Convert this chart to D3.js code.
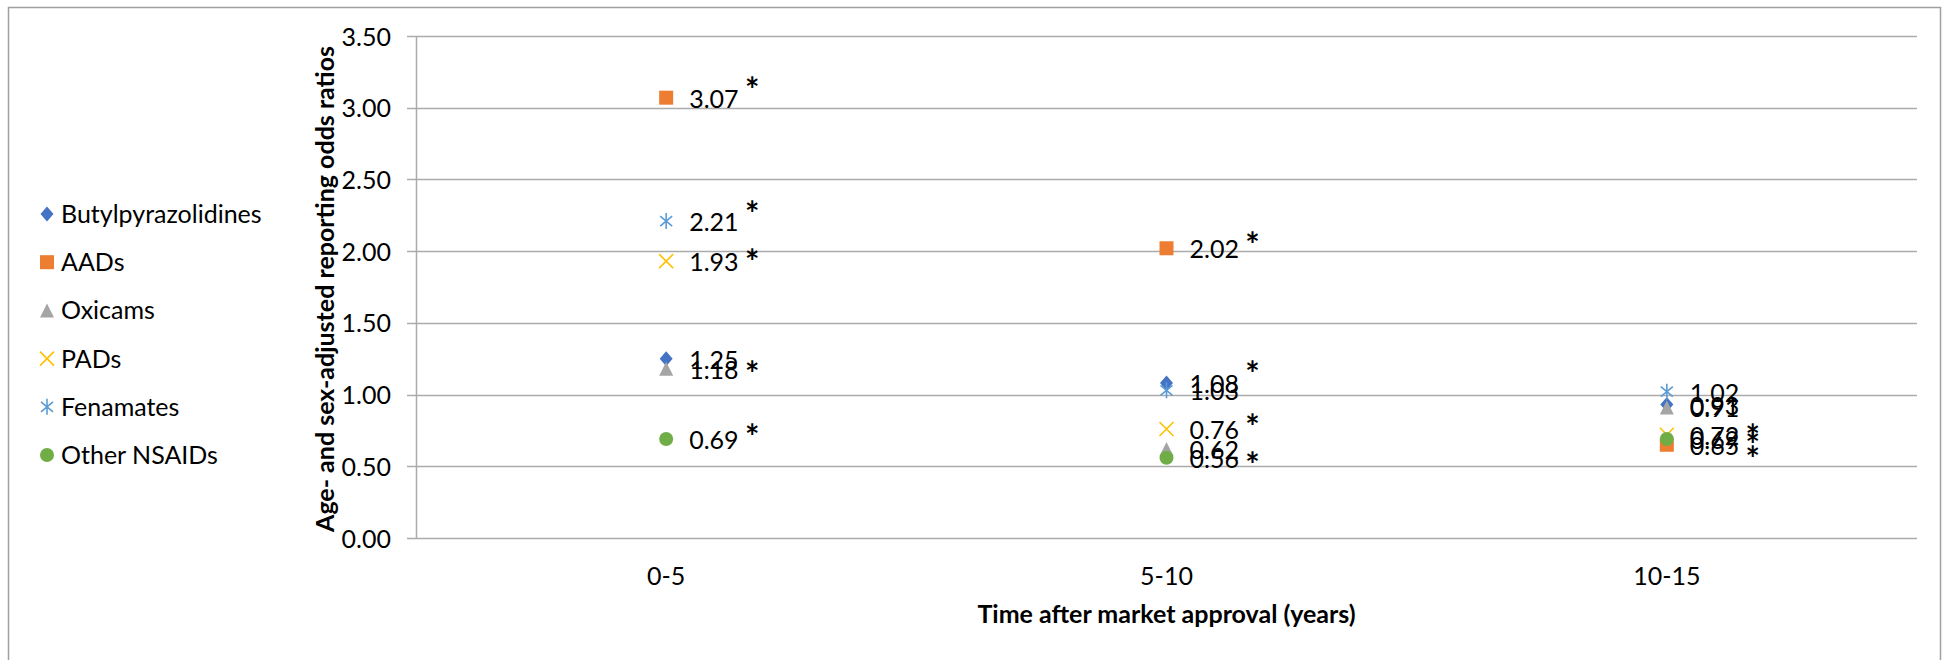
<!DOCTYPE html>
<html>
<head>
<meta charset="utf-8">
<script src="https://cdn.jsdelivr.net/npm/d3@7"></script>
<style>
  body { margin: 0; background: #fff; }
  text { font-family: Lato, "Open Sans", "Liberation Sans", sans-serif; }
</style>
</head>
<body>
<svg id="chart" width="1945" height="660"></svg>
<script>
// ---- data ----
const categories = ["0-5", "5-10", "10-15"];
const seriesNames = ["Butylpyrazolidines", "AADs", "Oxicams", "PADs", "Fenamates", "Other NSAIDs"];
const butylpyrazolidines = [1.25, 1.08, 0.93];
const aads = [3.07, 2.02, 0.65];
const oxicams = [1.18, 0.62, 0.91];
const pads = [1.93, 0.76, 0.72];
const fenamates = [2.21, 1.03, 1.02];
const otherNsaids = [0.69, 0.56, 0.69];
const yTicks = [0, 0.5, 1, 1.5, 2, 2.5, 3, 3.5];
const seriesColors = ["#4472C4", "#ED7D31", "#A5A5A5", "#FFC000", "#5B9BD5", "#70AD47"];
const seriesMarkers = ["diamond", "square", "triangle", "x", "star", "circle"];
// significance asterisks (category, level on the odds-ratio axis)
const starCategories = ["0-5", "0-5", "0-5", "0-5", "0-5", "5-10", "5-10", "5-10", "5-10", "10-15", "10-15", "10-15"];
const starLevels = [3.17, 2.31, 1.97, 1.19, 0.75, 2.09, 1.19, 0.82, 0.56, 0.75, 0.70, 0.60];
const yTitle = "Age- and sex-adjusted reporting odds ratios";
const xTitle = "Time after market approval (years)";

const seriesValues = [butylpyrazolidines, aads, oxicams, pads, fenamates, otherNsaids];

// ---- layout ----
const svg = d3.select("#chart");
const plot = { left: 416, right: 1917, top: 36, bottom: 538 };
const FS = 25;
const FONT = "Lato, 'Open Sans', sans-serif";

svg.append("rect")
  .attr("x", 8.5).attr("y", 7.5).attr("width", 1932).attr("height", 700)
  .attr("fill", "#fff").attr("stroke", "#A0A0A0").attr("stroke-width", 1.5);

const x = d3.scaleBand().domain(categories).range([plot.left, plot.right]);
const cx = c => x(c) + x.bandwidth() / 2;
const y = d3.scaleLinear().domain([0, 3.5]).range([plot.bottom, plot.top]);

// gridlines
svg.append("g").selectAll("line").data(yTicks).join("line")
  .attr("x1", plot.left - 9).attr("x2", plot.right)
  .attr("y1", d => Math.round(y(d)) + 0.5).attr("y2", d => Math.round(y(d)) + 0.5)
  .attr("stroke", "#ABABAB").attr("stroke-width", 1.5);

// y axis
const yAxis = svg.append("g").attr("transform", `translate(${plot.left},0)`)
  .call(d3.axisLeft(y).tickValues(yTicks).tickFormat(d3.format(".2f")).tickSize(0).tickPadding(25));
yAxis.select(".domain").attr("stroke", "#ABABAB").attr("stroke-width", 1.5);
yAxis.selectAll("text").attr("font-size", FS).attr("fill", "#000")
  .attr("font-family", FONT).attr("dy", "0.36em");

// x axis labels
const xAxis = svg.append("g").attr("transform", `translate(0,${plot.bottom})`)
  .call(d3.axisBottom(x).tickSize(0).tickPadding(29));
xAxis.select(".domain").remove();
xAxis.selectAll("text").attr("font-size", FS).attr("fill", "#000")
  .attr("font-family", FONT);

// axis titles
svg.append("text")
  .attr("transform", `translate(334,${(plot.top + plot.bottom) / 2 + 2}) rotate(-90)`)
  .attr("text-anchor", "middle").attr("font-weight", "bold").attr("font-size", FS)
  .text(yTitle);
svg.append("text")
  .attr("x", (plot.left + plot.right) / 2).attr("y", 623)
  .attr("text-anchor", "middle").attr("font-weight", "bold").attr("font-size", FS)
  .text(xTitle);

// marker drawing
function drawMarker(g, type, color) {
  const s = 7;
  if (type === "diamond") {
    g.append("path").attr("d", `M0,${-s - 0.5}L${s - 0.5},0L0,${s + 0.5}L${-s + 0.5},0Z`).attr("fill", color);
  } else if (type === "square") {
    g.append("rect").attr("x", -s).attr("y", -s).attr("width", 2 * s).attr("height", 2 * s).attr("fill", color);
  } else if (type === "triangle") {
    g.append("path").attr("d", `M0,${-s}L${s},${s}L${-s},${s}Z`).attr("fill", color);
  } else if (type === "x") {
    g.append("path").attr("d", `M${-s},${-s}L${s},${s}M${s},${-s}L${-s},${s}`)
      .attr("stroke", color).attr("stroke-width", 1.6).attr("fill", "none");
  } else if (type === "star") {
    g.append("path").attr("d", `M${-s + 1},${-s + 2}L${s - 1},${s - 2}M${s - 1},${-s + 2}L${-s + 1},${s - 2}M0,${-s - 1}L0,${s + 1}`)
      .attr("stroke", color).attr("stroke-width", 1.6).attr("fill", "none");
  } else if (type === "circle") {
    g.append("circle").attr("r", s).attr("fill", color);
  }
}

// points
const pts = svg.append("g");
seriesValues.forEach((vals, si) => {
  vals.forEach((v, ci) => {
    const g = pts.append("g").attr("transform", `translate(${cx(categories[ci])},${y(v)})`);
    drawMarker(g, seriesMarkers[si], seriesColors[si]);
  });
});

// data labels
const labs = svg.append("g");
seriesValues.forEach((vals, si) => {
  labs.selectAll(null).data(vals).join("text")
    .attr("x", (v, ci) => cx(categories[ci]) + 23)
    .attr("y", v => y(v) + 10)
    .attr("font-size", FS).attr("fill", "#000")
    .text(v => d3.format(".2f")(v));
});

// significance asterisks
svg.append("g").selectAll("text").data(starLevels).join("text")
  .attr("x", (d, i) => cx(starCategories[i]) + 86)
  .attr("y", d => y(d) + 19)
  .attr("text-anchor", "middle").attr("font-weight", "bold").attr("font-size", 34)
  .text("*");

// legend
const leg = svg.append("g");
seriesNames.forEach((name, i) => {
  const ry = 214 + i * 48.2;
  const g = leg.append("g").attr("transform", `translate(47,${ry})`);
  drawMarker(g, seriesMarkers[i], seriesColors[i]);
  leg.append("text").attr("x", 61).attr("y", ry + 9).attr("font-size", FS).text(name);
});
</script>
</body>
</html>
